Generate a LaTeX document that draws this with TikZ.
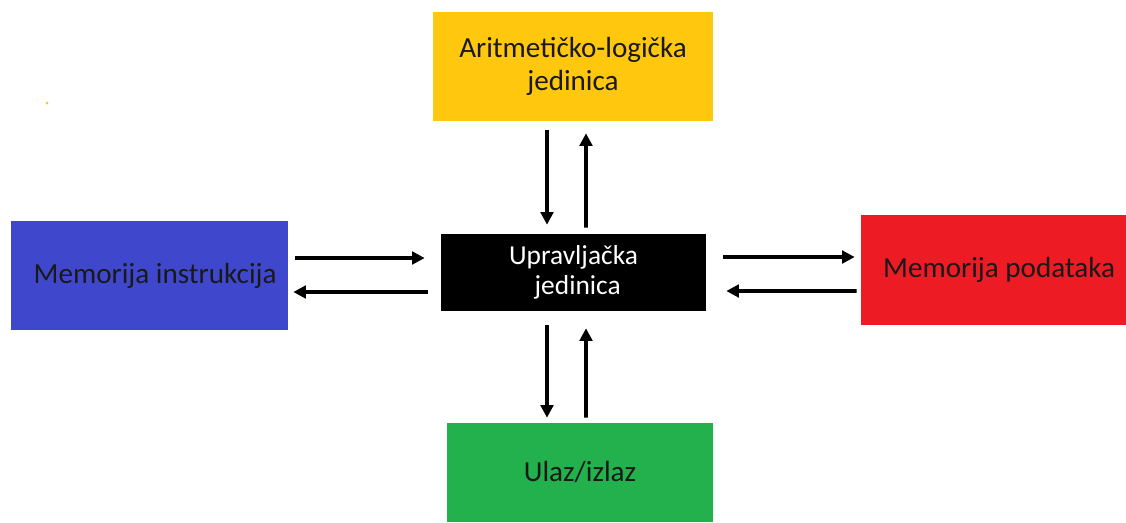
\documentclass[tikz,border=0pt]{standalone}
\usepackage{fontspec}
\setmainfont{Carlito}
\usetikzlibrary{arrows.meta,calc}
\definecolor{aluyellow}{RGB}{255,200,14}
\definecolor{miblue}{RGB}{63,72,204}
\definecolor{mpred}{RGB}{237,28,36}
\definecolor{iogreen}{RGB}{34,177,76}
\definecolor{boxtext}{RGB}{25,25,25}
\begin{document}
\begin{tikzpicture}[x=0.025cm, y=-0.025cm,
    box/.style={rectangle, inner sep=0pt, align=center, text=boxtext,
      font=\fontsize{20.7}{24}\selectfont},
    arr/.style={line width=2.7pt, -{Triangle[length=9pt,width=9pt]}}]
         \useasboundingbox (0, 0) rectangle (1126, 522);
         \node [box, fill=aluyellow, minimum width=7cm, minimum height=2.725cm] (ALU) at (573, 66.5) {Aritmetičko-logička\\jedinica};
         \node [box, fill=black, text=white, minimum width=6.625cm, minimum height=1.925cm,
           font=\fontsize{19.5}{21}\selectfont] (CU) at (573.5, 272.5) {Upravljačka\\ \hspace{6pt}jedinica};
         \node [box, fill=miblue, minimum width=6.925cm, minimum height=2.725cm] (MI) at (149.5, 275.5) {\hspace{8pt}Memorija instrukcija};
         \node [box, fill=mpred, minimum width=6.625cm, minimum height=2.75cm] (MP) at (993.5, 270) {\hspace{8pt}Memorija podataka};
         \node [box, fill=iogreen, minimum width=6.65cm, minimum height=2.475cm] (IO) at (580, 472.5) {Ulaz/izlaz};
         \fill [aluyellow] (47, 103) circle (1.5);
         % ALU <-> CU
         \draw [arr] ($(ALU.south)+(-26, 9)$) -- ($(CU.north)+(-26.5, -9)$);
         \draw [arr] ($(CU.north)+(12.5, -6)$) -- ($(ALU.south)+(13, 12)$);
         % MI <-> CU
         \draw [arr] ($(MI.east)+(7, -17.5)$) -- ($(CU.west)+(-16, -14.5)$);
         \draw [arr] ($(CU.west)+(-13, 19.5)$) -- ($(MI.east)+(5, 16.5)$);
         % CU <-> MP
         \draw [arr] ($(CU.east)+(17, -15.5)$) -- ($(MP.west)+(-6, -13)$);
         \draw [arr] ($(MP.west)+(-4, 21)$) -- ($(CU.east)+(20, 18.5)$);
         % CU <-> IO
         \draw [arr] ($(CU.south)+(-26.5, 14)$) -- ($(IO.north)+(-33, -5)$);
         \draw [arr] ($(IO.north)+(6, -5)$) -- ($(CU.south)+(12.5, 17)$);
\end{tikzpicture}
\end{document}
